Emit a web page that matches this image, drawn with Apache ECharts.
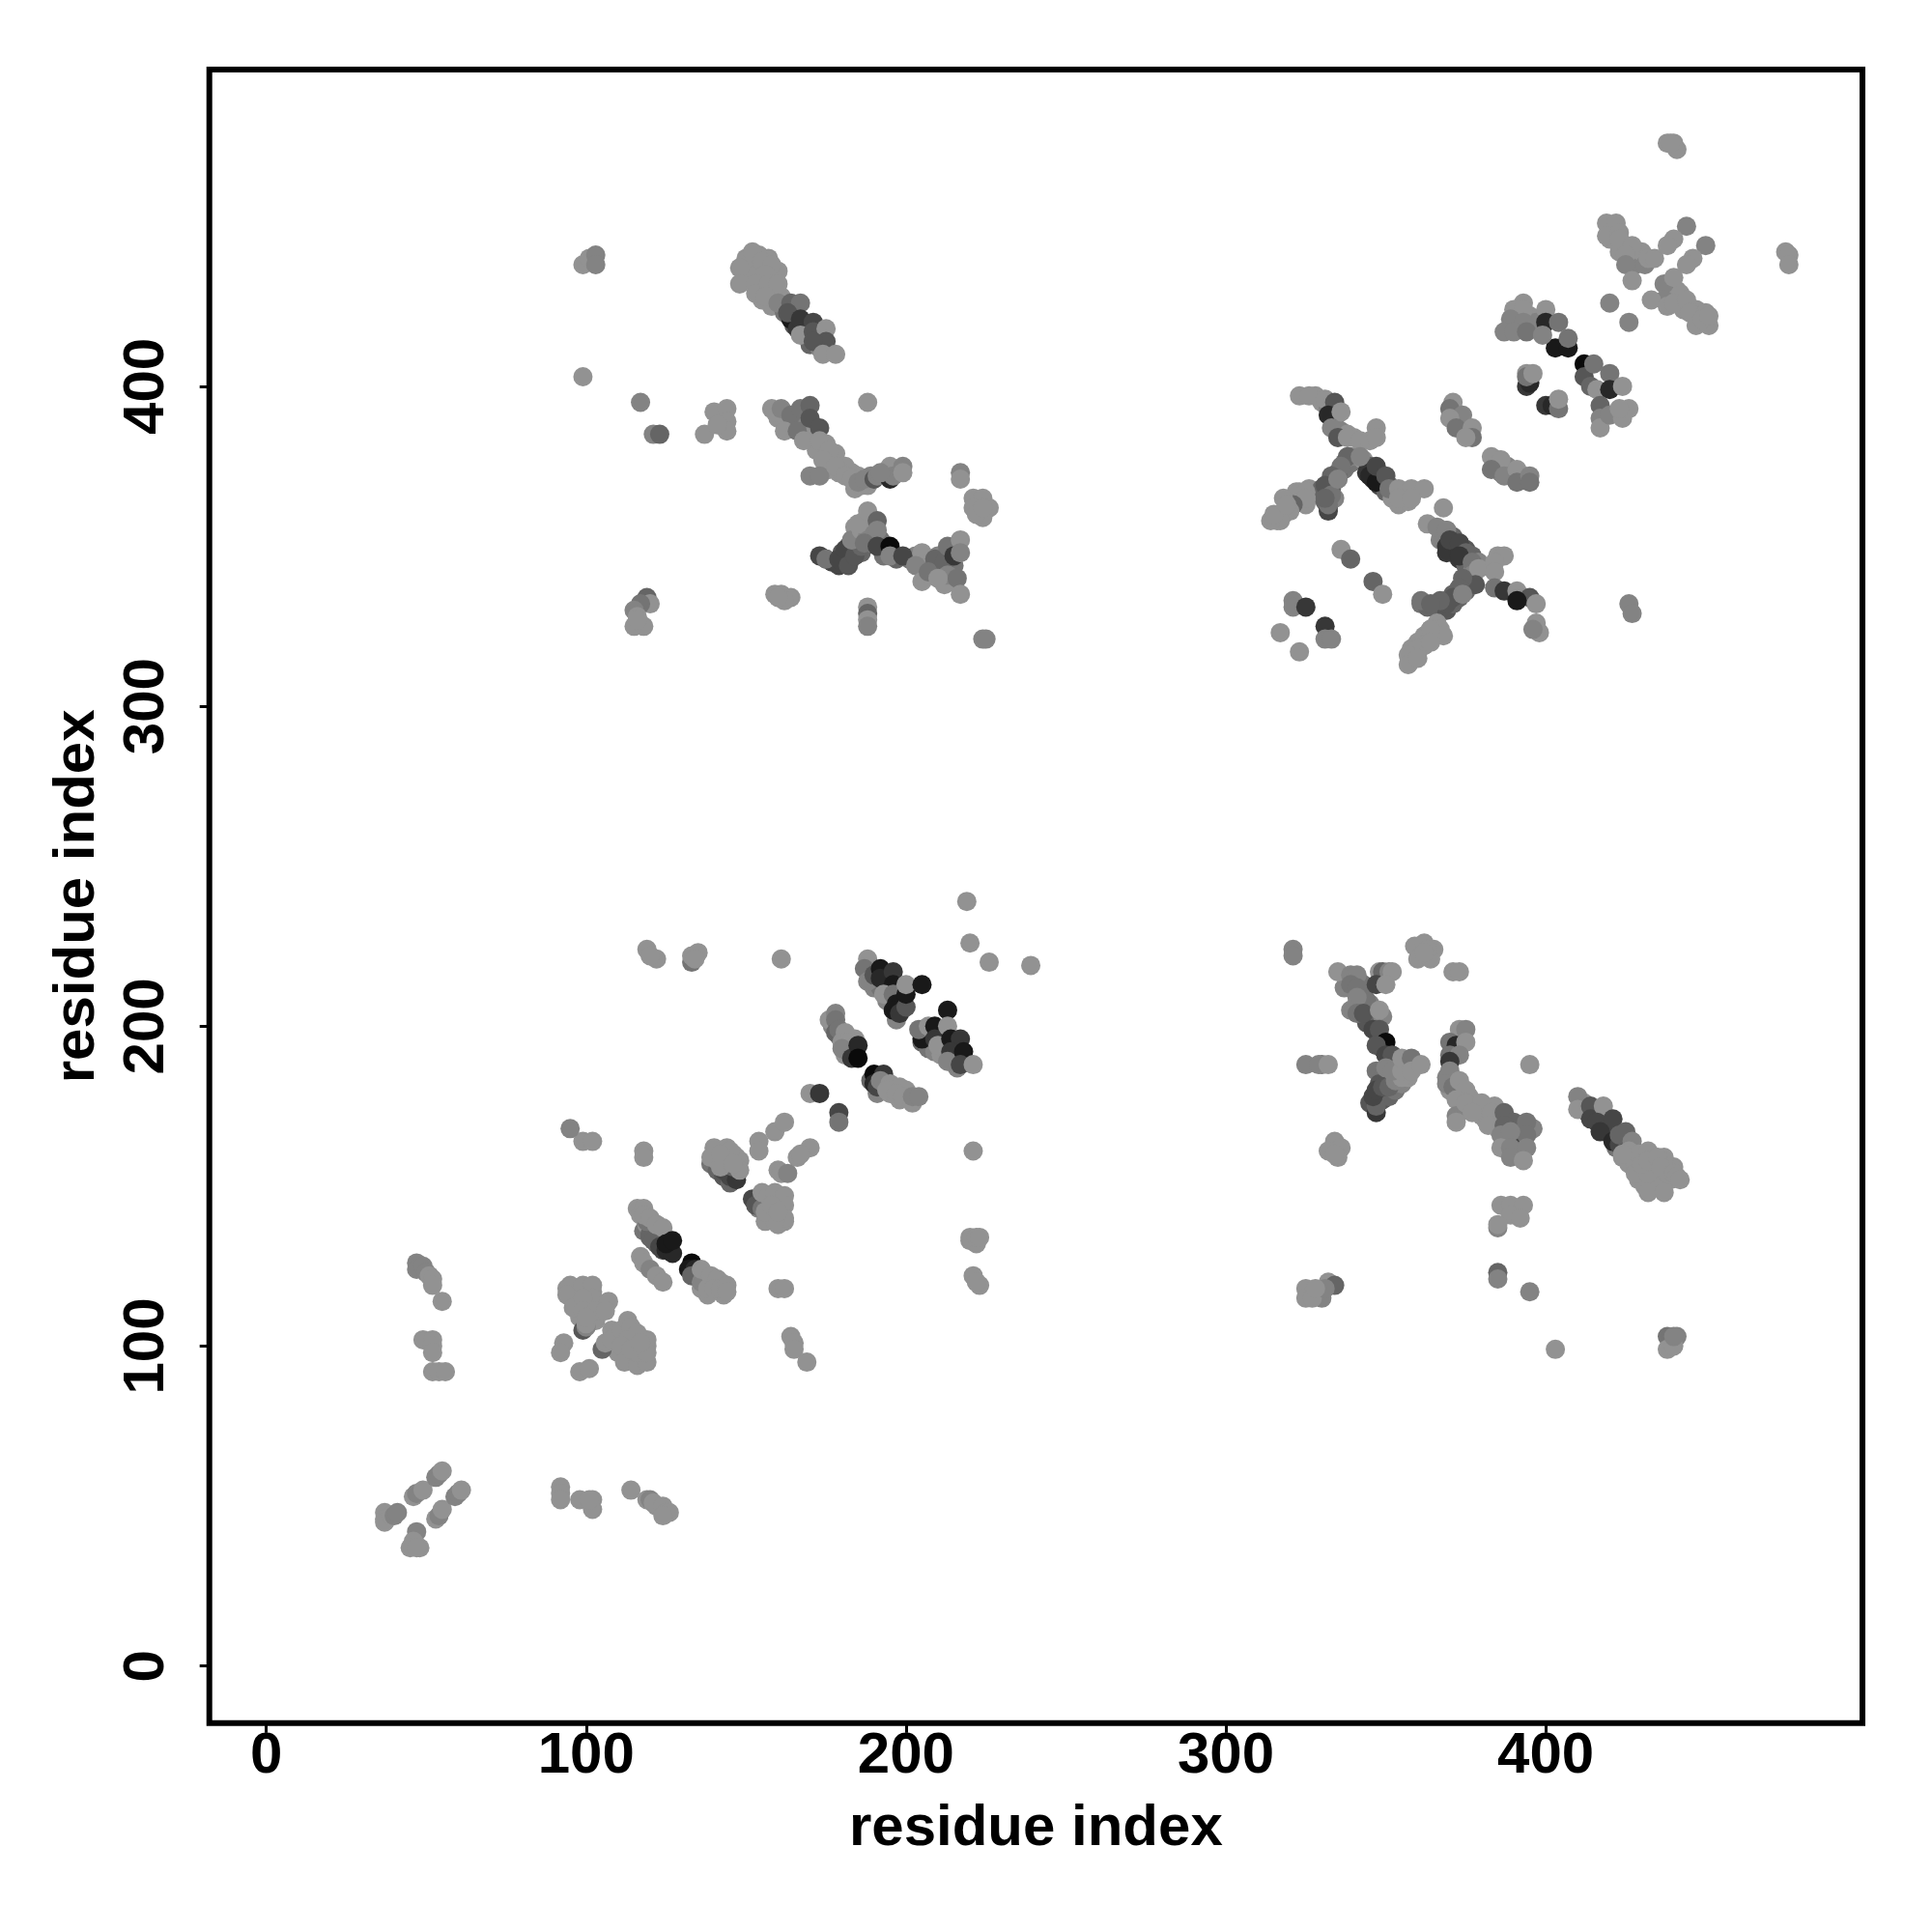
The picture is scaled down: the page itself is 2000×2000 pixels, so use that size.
<!DOCTYPE html>
<html><head><meta charset="utf-8">
<script src="https://cdn.jsdelivr.net/npm/echarts@6/dist/echarts.min.js"></script>
<style>html,body{margin:0;padding:0;background:#fff}#c{width:2000px;height:2000px}</style>
</head><body><div id="c"></div>
<script>
// every contact is [residue i, residue j, strength level 0..9]
const tickValues = [0, 100, 200, 300, 400];
const axisTitle = 'residue index';

const bandsLower = [
[94,118,0],[96,115,0],[98,117,0],[100,113,0],[102,117,0],[104,113,0],[98,109,0],[101,110,0],[103,108,0],
[108,105,0],[110,102,0],[112,104,0],[115,100,0],[117,97,0],[114,96,0],[118,96,0],[116,100,0],[110,98,0],[113,96,0],[119,100,0],[109,103,0],
[118,136,2],[120,134,3],[122,132,3],[124,130,5],[119,138,0],[121,136,1],[123,134,3],[125,132,5],
[135,122,3],[137,120,1],[139,119,0],[141,118,0],[138,122,0],[140,120,0],[142,120,0],[136,118,0],[138,116,0],[143,116,0],
[139,157,2],[141,155,3],[143,153,4],[145,151,3],[141,158,0],[143,156,1],[145,154,3],[147,153,2],[146,160,0],[148,158,0],
[154,146,3],[156,145,1],[158,146,0],[160,145,0],[157,141,0],[159,141,0],[161,143,0],[154,143,1],[160,138,0],[162,139,0],[156,139,0],
[177,200,1],[179,197,2],[181,194,3],[183,192,1],[184,196,0],[189,183,3],[191,179,1],[193,181,0],[195,179,0],[198,177,0],[200,180,0],
[205,195,3],[207,193,2],[209,192,1],[211,191,0],[213,194,3],[215,190,2],[216,187,1],[211,197,0],
[190,212,1],[192,212,2],[194,208,1],[198,208,1],[197,202,1],
[337,212,1],[341,207,1],[343,210,2],[345,207,1],[343,213,2],[346,204,2],[344,201,4],[347,202,3],[349,203,1],
[347,186,2],[349,184,2],[351,187,1],[348,182,4],[350,179,3],[347,177,4],[349,177,4],[345,176,4],[351,178,3],[353,180,2],[355,182,1],[357,184,0],[354,188,1],
[370,180,0],[372,180,0],[374,178,0],[376,178,0],[378,176,0],[379,173,0],[381,171,0],[383,170,0],[385,168,0],[376,174,0],[374,174,0],[380,172,0],[384,175,0],
[386,170,2],[391,168,2],[387,164,2],[393,164,2],[390,162,1],[392,160,0],[396,168,1],
[412,176,0],[413,173,3],[415,173,4],[419,171,4],[418,168,5],[420,167,5],[424,164,2],[422,162,2],[424,159,0],[426,157,0],[428,158,0],[430,155,0],[433,156,0],[435,155,0],[437,155,0],[429,152,0],[434,152,0],[439,152,0],[440,156,0],[431,150,0],[434,150,0],[428,157,0]
];
const bandsUpper = [
[150,436,0],[152,438,0],[154,436,0],[156,433,0],[151,435,0],[150,440,0],[154,441,0],[157,440,0],[160,436,0],[158,430,0],[155,427,0],[158,425,0],[161,428,0],[163,425,1],[162,423,2],[165,419,4],[169,417,4],[170,413,3],[173,412,1],[172,416,3],
[160,390,0],[162,389,0],[165,389,1],[168,388,1],[170,385,0],[175,382,0],[177,377,0],[179,373,0],[181,375,0],[183,373,0],[185,372,0],[188,369,0],[172,380,0],[176,374,0],[178,379,0],[184,368,0],[186,369,0],[189,372,1],
[175,346,4],[177,345,5],[179,344,5],[180,348,4],[182,350,3],[184,352,2],[186,348,3],[188,351,1],[184,356,0],[187,358,0],[186,353,1],[190,356,0],[189,354,1],[192,352,2],[193,347,2],[197,346,3],
[201,346,2],[203,347,1],[205,345,0],[207,344,1],[209,343,2],[211,342,2],[213,343,1],[214,339,0],[210,347,1],[215,344,2],[212,338,0],[206,341,0],
[316,358,0],[318,360,0],[320,362,0],[322,364,0],[324,366,0],[326,368,0],[317,360,0],[319,362,0],[321,365,0],[323,367,0],[327,366,0],[325,363,0],
[331,364,3],[333,368,3],[335,371,2],[337,374,2],[339,376,2],[341,378,1],[331,367,4],[333,370,3],[335,373,3],[337,376,2],[339,378,1],[332,362,4],[330,368,3],[334,365,1],
[343,377,0],[345,375,3],[347,373,4],[349,371,4],[351,369,3],[353,367,1],[344,373,6],[346,371,6],[348,369,5],[350,367,3],[352,365,0],[354,363,0],
[369,355,1],[371,353,3],[373,351,4],[375,349,4],[377,347,3],[379,345,1],[367,352,1],[369,350,6],[371,348,7],[373,346,6],[375,344,3],[377,342,1],
[361,332,2],[363,331,3],[365,331,3],[367,332,3],[369,333,4],[371,335,3],[373,337,2],[375,339,2],[377,341,2],[379,343,1],[369,330,4],[371,332,3],[373,334,3],[375,336,3],[377,338,3],
[358,318,0],[360,320,0],[362,322,0],[364,324,0],[366,326,0],[358,315,0],[360,317,0],[362,319,0],[364,321,0],[366,323,0],
[328,397,0],[330,395,0],[332,393,1],[334,391,1],[334,388,1],[336,386,1],[338,385,0],[340,384,0],
[371,393,0],[372,390,1],[374,388,0],[376,385,1],[385,377,0],[388,375,1],[386,373,1],[389,372,0],[393,372,1],[385,375,1],
[420,446,0],[421,449,0],[425,444,0],[429,440,0],[423,442,0],[428,438,1],[430,442,0],[441,430,0],[440,428,0],[442,429,0],[447,424,0],[448,422,0],[443,424,0],
[392,422,0],[395,422,0],[391,419,1],[394,419,1],[397,420,1]
];
const nearCorner = [
[37,48,0],[37,46,0],[37,45,0],[39,47,0],[40,47,1],[41,48,1],
[47,42,1],[46,39,0],[45,37,0],[48,37,0],[47,37,0],
[53,46,0],[54,47,1],[55,49,0],[59,53,1],[60,54,1],[61,55,0],
[46,53,0],[47,54,1],[49,55,0],[53,59,1],[54,60,1],[55,61,0],
[92,56,0],[92,54,0],[92,52,0],[98,52,0],[102,52,0],[102,49,0],[101,52,0],
[114,55,0],[119,52,0],[120,52,1],[122,50,0],[121,51,0],[124,50,0],[125,48,0],[126,48,0],[124,47,0],
[47,126,1],[47,124,1],[49,125,1],[50,123,1],[51,122,0],[52,121,0],[52,119,0],[55,114,0],
[49,102,0],[52,102,0],[52,100,0],[52,98,0],[52,92,0],[54,92,0],[56,92,0]
];
const firstKnot = [
[93,101,0],[92,98,0],[98,92,0],[101,93,0],
[99,105,4],[100,106,1],[95,119,0],[94,116,0],[96,112,0],[99,119,0],[102,119,0],[102,115,0],[99,115,0],[99,111,0],[103,111,0],
[107,114,0],[106,111,0],[100,107,0],[100,109,0],
[105,99,3],[106,101,0],[108,102,0],[111,105,0],[113,108,0],[114,106,0],[119,102,0],[116,104,0],[113,102,0],[111,100,0],[112,95,0],[116,94,0],[119,95,0],[116,98,0],[119,98,0],[114,99,0],[117,101,0]
];
const firstStrand = [
[99,164,0],[102,164,0],[118,161,0],[118,159,0],
[119,224,0],[122,221,0],[120,222,0],[133,220,2],[133,222,0],[135,223,0],[134,221,0],[161,221,0],
[117,128,0],[118,126,0],[120,124,1],[122,122,0],[124,120,0],
[120,135,3],[121,133,3],[123,131,5],[125,130,7],[127,129,7],[122,138,1],
[116,143,0],[118,143,0],[117,141,0],[119,139,2],[118,141,0],[120,140,0],[122,138,0],[124,137,0],[125,132,8],[127,133,8],
[133,126,9],[132,124,8],[134,124,7],[133,122,3],[136,120,1],[138,118,0],
[136,124,0],[139,122,0],[141,121,0],[140,118,0],[142,118,0],[144,119,0],[144,117,0]
];
const secondKnot = [
[143,155,5],[145,153,5],[147,152,6],[144,158,3],[146,156,3],
[140,162,0],[144,162,0],[139,159,0],[142,156,0],[144,159,0],[147,159,0],[148,155,0],[145,161,0],[142,160,0],[146,157,0],
[154,164,0],[154,161,0],[159,167,0],[162,170,0],[170,162,0],[166,159,0],[167,160,0],
[160,155,0],[161,154,0],[163,154,1],
[152,146,5],[153,144,4],[155,143,2],[155,148,0],[157,147,0],[159,148,0],[162,147,0],[162,144,0],[162,140,0],[159,139,0],[156,142,0],[158,144,0],[160,142,0],
[170,179,0],[173,179,6],[179,173,5],[179,170,2]
];
const firstPeak = [
[176,202,0],[178,204,1],[178,202,2],[178,198,3],[179,199,2],[181,198,0],[180,195,0],[182,195,0],[181,191,0],[180,193,1],
[183,190,6],[185,194,7],[185,190,9],[190,185,9],[193,185,6],[190,182,7],[191,181,5],[192,183,1],
[195,182,0],[198,181,0],[194,180,0],[197,179,0],[199,178,0],[202,176,0],[202,178,1],[204,178,1],
[188,221,0],[187,218,2],[188,214,1],[190,216,4],[192,218,8],[192,215,7],[196,217,6],[196,213,8],
[193,210,0],[196,210,2],[197,207,8],[196,205,8],[198,204,6],[200,206,4],[200,210,8],[200,213,0],[205,213,8],
[213,205,8],[205,199,5],[205,196,8],[204,199,2],[207,200,0],[209,200,8],[209,196,6],[210,194,0],
[213,200,0],[214,196,8],[217,196,6],[214,192,6],[213,189,1],[218,192,8],[217,188,5],[221,188,0],
[219,239,0],[220,226,0],[226,220,0],[239,219,0],[221,161,0],
[220,133,0],[222,132,0],[220,134,0],[222,134,0],[223,134,0],[221,122,0],[223,119,0],[222,120,0],
[160,118,0],[162,118,0],[164,103,0],[165,101,0],[165,99,0],[169,95,0],[95,168,1]
];
const lowerRightA = [
[321,224,1],[321,222,1],
[359,225,0],[362,226,0],[365,224,0],[361,222,0],[360,221,0],[364,221,0],[363,224,0],[362,223,0],
[371,217,0],[373,217,0],
[335,217,0],[339,216,1],[341,216,1],[339,213,2],[341,212,2],[344,208,2],[341,209,1],[339,205,1],
[341,204,2],[343,204,4],[348,205,0],[348,217,0],[349,217,3],[351,217,1],[352,217,0],[347,213,5],[350,213,0],
[346,199,5],[348,199,4],[349,193,7],[350,195,9],[347,194,4],[350,191,5],[352,191,4],[350,187,1],
[325,188,1],[330,188,2],[329,188,1],[332,188,0],
[347,173,6],[347,175,3],[346,178,5],[347,180,5],[349,181,4],[351,181,3],[353,183,1],[355,184,0],
[352,186,1],[355,186,0],[355,190,0],[358,190,2],[358,186,0],[361,188,0],
[334,164,0],[336,162,0],[332,161,0],[335,159,0],[334,160,0]
];
const lowerRightB = [
[373,199,0],[375,199,1],[370,195,2],[372,194,7],[375,195,0],[370,191,2],[373,191,1],[370,189,6],
[369,184,1],[370,186,1],[369,182,1],[371,181,2],[373,183,0],[375,180,0],[372,177,0],[372,172,1],[372,170,0],
[375,176,0],[380,176,0],[377,173,0],[383,173,0],[382,169,0],
[389,165,5],[387,173,3],[390,170,3],[394,170,2],[387,169,3],[386,166,1],[394,166,2],[389,167,1],
[386,162,0],[389,162,1],[389,159,1],[394,162,1],[393,158,0],
[386,144,0],[389,144,0],[393,144,0],[389,141,0],[392,140,0],[385,137,1],[385,138,0],
[385,123,3],[385,121,1],[395,188,0],[395,117,1],[403,99,0],
[325,118,0],[325,115,0],[330,115,1],[332,120,0],[334,119,3],[327,115,0],[331,118,1],[328,118,0],
[441,103,1],[438,103,2],[438,99,0],[440,100,0],[440,103,1]
];
const lowerRightC = [
[410,178,1],[410,174,0],[414,175,4],[414,171,5],[418,175,0],[416,170,5],[421,171,5],[417,167,6],
[421,164,7],[423,163,5],[425,167,3],[423,166,3],[427,164,1],[426,161,0],[429,160,0],[432,161,0],
[424,160,0],[428,154,0],[432,154,0],[430,157,0],[437,159,0],[432,158,0],[435,159,0],[438,154,0],
[436,156,0],[440,154,0],[441,153,0],[442,152,0],[432,148,0],[437,148,0]
];
const upperLeftA = [
[99,438,0],[101,440,0],[103,441,1],[103,438,1],[99,403,0],
[117,395,1],[121,385,1],[123,385,3],[137,385,0],[140,392,0],[144,393,0],[144,389,0],[144,386,0],[141,388,0],[188,395,0],
[148,437,0],[148,432,0],[152,442,0],[155,439,0],[158,438,0],[156,435,0],[153,432,0],[153,429,0],[157,432,0],[160,432,0],[156,428,0],
[160,426,1],[164,421,8],[166,418,6],[164,426,3],[167,426,2],[163,423,4],[167,421,6],[171,420,5],[167,416,0],[171,417,4],[175,418,0],[175,414,4],[171,414,4],[174,410,0],[178,410,0]
];
const upperLeftB = [
[158,393,0],[159,392,0],[161,393,1],[164,391,2],[162,386,0],[167,393,2],[166,386,2],[170,394,3],[170,390,4],[168,383,0],[173,387,4],
[173,383,0],[176,380,0],[174,377,0],[170,372,1],[173,372,1],[178,375,0],[181,372,0],[183,371,0],[185,370,1],[187,371,1],
[190,371,4],[191,372,1],[195,375,0],[195,371,7],[196,372,1],[192,373,1],[199,375,1],[199,373,0],
[217,373,1],[217,371,0],[221,365,0],[224,365,0],[226,362,0],[221,362,0],[224,359,0],[222,360,0],[224,362,0]
];
const upperLeftC = [
[173,347,5],[175,346,2],[179,346,5],[181,349,5],[182,344,4],[184,347,4],[186,350,3],[183,352,1],[186,355,0],[188,353,1],[185,357,0],[188,361,0],[191,358,3],[191,355,1],
[187,351,2],[191,350,5],[195,350,9],[195,347,1],[199,347,5],
[205,348,0],[203,344,1],[209,346,3],[205,339,0],[207,342,2],[212,345,3],[213,341,1],[210,340,0],[213,350,2],[215,347,6],[217,352,0],[217,348,1],[216,340,2],[217,335,0],
[161,335,0],[159,335,0],[164,334,0],[162,333,0],[160,334,0],
[188,331,0],[188,329,3],[188,327,0],[188,325,1],
[224,321,1],[225,321,1],
[119,334,3],[120,332,0],[117,332,2],[115,330,1],[116,328,0],[115,325,0],[118,325,0],[116,327,0]
];
const upperRightA = [
[323,397,0],[326,397,0],[331,396,0],[334,395,4],[332,391,7],[336,392,0],[333,387,1],[335,384,4],[338,384,0],[342,383,0],[345,383,0],[347,387,0],[347,384,0],
[338,378,3],[342,378,1],[336,375,2],[333,372,3],[331,369,4],[333,366,2],[332,361,5],[332,363,2],[335,371,1],[331,365,3],
[322,367,0],[325,367,0],[325,365,0],[321,363,3],[318,365,0],[320,361,0],[317,358,0],[314,358,0],[315,360,0],[319,363,0],
[345,372,7],[347,370,8],[347,375,5],[350,372,4],[351,368,2],[354,368,0],[358,368,0],[362,368,0],[357,364,0],[354,365,0],[358,365,0],
[336,349,0],[339,346,3],[346,339,3],[349,335,0],[321,333,1],[321,331,1],[325,331,6],[331,325,6],[331,321,1],[333,321,1],[317,323,0],[323,317,0]
];
const upperRightB = [
[368,362,0],[363,357,0],[366,356,1],[369,355,1],[369,348,6],[370,352,5],[373,351,5],[375,348,3],[373,347,6],[377,345,2],[377,341,1],[379,343,0],
[385,347,0],[387,347,0],[384,345,0],[384,342,0],[378,338,4],[374,340,3],[373,337,3],[371,334,4],[369,332,4],[367,333,3],[361,333,2],[364,332,3],[374,335,1],
[384,337,2],[387,336,6],[391,336,0],[395,334,4],[391,333,8],[397,332,0],[397,326,0],[398,323,0],[396,324,1],
[367,324,0],[368,322,0],[364,324,0],[362,319,0],[360,318,0],[357,316,0],[357,313,0],[360,315,0],[364,320,0],
[371,395,0],[370,393,2],[374,391,1],[370,390,0],[372,387,2],[377,387,0],[377,384,2],[375,384,0],
[383,378,0],[386,377,0],[383,374,2],[387,372,1],[391,374,0],[391,370,2],[395,372,1],[395,370,2],
[426,332,1],[427,329,1]
];
const upperRightC = [
[438,476,0],[440,476,0],[441,474,0],[439,476,0],
[475,442,0],[476,441,0],[476,438,0],
[419,451,0],[422,451,0],[419,447,0],[423,448,0],[423,446,0],[427,444,0],[425,441,0],[425,438,1],[431,438,1],[432,440,0],[434,440,0],[427,433,0],[420,426,1],[426,420,1],
[444,450,1],[440,446,0],[438,444,0],[450,444,1],[446,440,0],[444,438,0],
[437,432,1],[440,434,0],[437,427,1],[433,427,0],[438,425,0],[440,426,0],[444,427,0],[445,423,0],[450,423,0],[447,419,0],[451,419,0],[449,421,0],[451,422,0],
[393,426,0],[390,424,0],[393,424,0],[389,421,1],[393,420,1],[387,417,1],[390,417,1],[394,417,2],[400,424,0],[403,412,8],[407,412,8],[400,420,7],[399,416,1],[404,420,2],[407,415,2],
[412,407,9],[412,403,4],[415,407,2],[414,400,3],[416,399,0],[420,404,2],[420,399,7],[424,400,0],
[417,394,3],[417,390,1],[417,387,0],[420,391,1],[424,390,0],[426,393,0],[423,393,0],
[394,404,0],[394,400,6],[395,401,7],[394,403,2],[396,404,0],
[400,394,6],[402,394,7],[404,393,2],[404,396,0]
];
const contacts = [].concat(bandsLower, bandsUpper, nearCorner, firstKnot, firstStrand, secondKnot, firstPeak,
  lowerRightA, lowerRightB, lowerRightC, upperLeftA, upperLeftB, upperLeftC,
  upperRightA, upperRightB, upperRightC);

const chart = echarts.init(document.getElementById('c'), null, {renderer: 'canvas'});
const labelFont = {fontFamily: '"Liberation Sans"', fontWeight: 'bold', fontSize: 60, color: '#000'};
function axis(extra) {
  return Object.assign({
    type: 'value', min: -17.8, max: 499,
    name: axisTitle, nameLocation: 'middle',
    nameTextStyle: labelFont,
    splitLine: {show: false},
    axisLine: {show: false, onZero: false},
    axisTick: {show: true, customValues: tickValues, length: 10, lineStyle: {color: '#000', width: 3}},
    minorTick: {show: false}
  }, extra);
}
chart.setOption({
  animation: false,
  backgroundColor: '#fff',
  grid: {left: 216.7, top: 72, width: 1711.3, height: 1711.7, show: true, borderColor: '#000', borderWidth: 6, backgroundColor: 'transparent', containLabel: false},
  xAxis: axis({nameGap: 80, axisLabel: Object.assign({customValues: tickValues, margin: 5, hideOverlap: false}, labelFont)}),
  yAxis: axis({nameGap: 106, axisLabel: Object.assign({customValues: tickValues, rotate: 90, margin: 34, hideOverlap: false}, labelFont)}),
  visualMap: {show: false, type: 'continuous', dimension: 2, min: 0, max: 9, inRange: {color: ['#929292', '#0a0a0a']}},
  series: [{type: 'scatter', data: contacts, symbol: 'circle', symbolSize: 20, silent: true, clip: false, itemStyle: {opacity: 1}, encode: {x: 0, y: 1}}]
});
</script></body></html>
